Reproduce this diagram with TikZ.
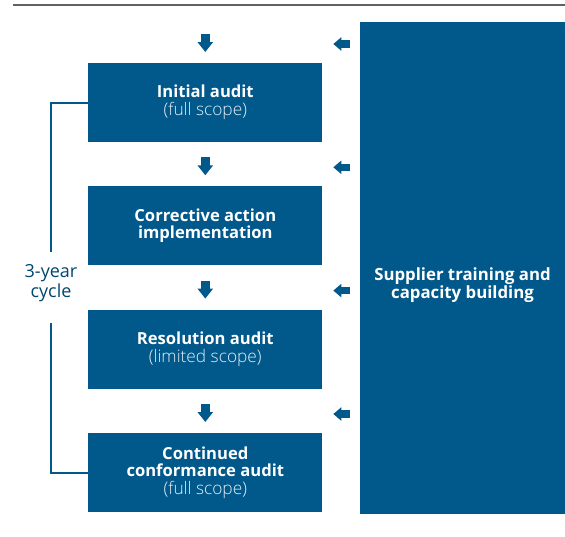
\documentclass[tikz,border=0pt]{standalone}
\usepackage{fontspec}
\setmainfont{Open Sans}
\newfontfamily\lightfont{Open Sans Light}
\usetikzlibrary{arrows.meta}
\definecolor{pblue}{HTML}{00588B}
\newcommand{\lt}[1]{{\mdseries\lightfont\fontsize{17.3}{17.5}\selectfont\color{white!90!pblue}#1}}
\tikzset{
  stepbox/.style={fill=pblue, minimum width=234pt, minimum height=79pt, inner sep=0pt,
    text=white, align=center, font=\fontsize{16.6}{17.5}\selectfont\bfseries},
  sidebox/.style={fill=pblue, minimum width=205pt, minimum height=492pt, inner sep=0pt},
  sidetext/.style={text=white, align=center, font=\fontsize{16.8}{18}\selectfont\bfseries, inner sep=0pt},
  downarrow/.style={pblue, line width=9pt, -{Triangle[width=15pt,length=10pt]}},
  leftarrow/.style={pblue, line width=7.5pt, -{Triangle[width=13pt,length=8pt]}},
  cycleline/.style={pblue, line width=2pt},
  cycletext/.style={text=pblue!80!black, align=center, font=\fontsize{18}{20}\selectfont, inner sep=0pt}
}
\begin{document}
\begin{tikzpicture}[x=1pt,y=-1pt]
\useasboundingbox (0,0) rectangle (565,536);
\draw[line width=2pt, color=black!62] (13,5.3) -- (565,5.3);

\node[stepbox] (b1) at (205.3,102.5) {Initial audit\\\lt{(full scope)}};
\node[stepbox] (b2) at (205.3,225.8) {Corrective action\\implementation};
\node[stepbox] (b3) at (205.3,349.1) {Resolution audit\\\lt{(limited scope)}};
\node[stepbox] (b4) at (205.3,472.5) {Continued\\conformance audit\\\lt{(full scope)}};
\node[sidebox] (side) at (462.5,267.6) {};
\node[sidetext] (sidet) at (462.5,285.5) {Supplier training and\\capacity building};

\foreach \i/\y in {1/43, 2/166.3, 3/289.6, 4/413} {
  \coordinate (d\i s) at (205.3,\y-9);
  \coordinate (d\i e) at (205.3,\y+9);
  \coordinate (l\i s) at (350,\y+1);
  \coordinate (l\i e) at (333.3,\y+1);
  \draw[downarrow] (d\i s) -- (d\i e);
  \draw[leftarrow] (l\i s) -- (l\i e);
}

\node[cycletext] (cyc) at (51,283.5) {3-year\\cycle};
\coordinate (ctop) at (51,252);
\coordinate (cbot) at (51,323);
\draw[cycleline] (b1.west) -| (ctop);
\draw[cycleline] (cbot) |- (b4.west);
\end{tikzpicture}
\end{document}
